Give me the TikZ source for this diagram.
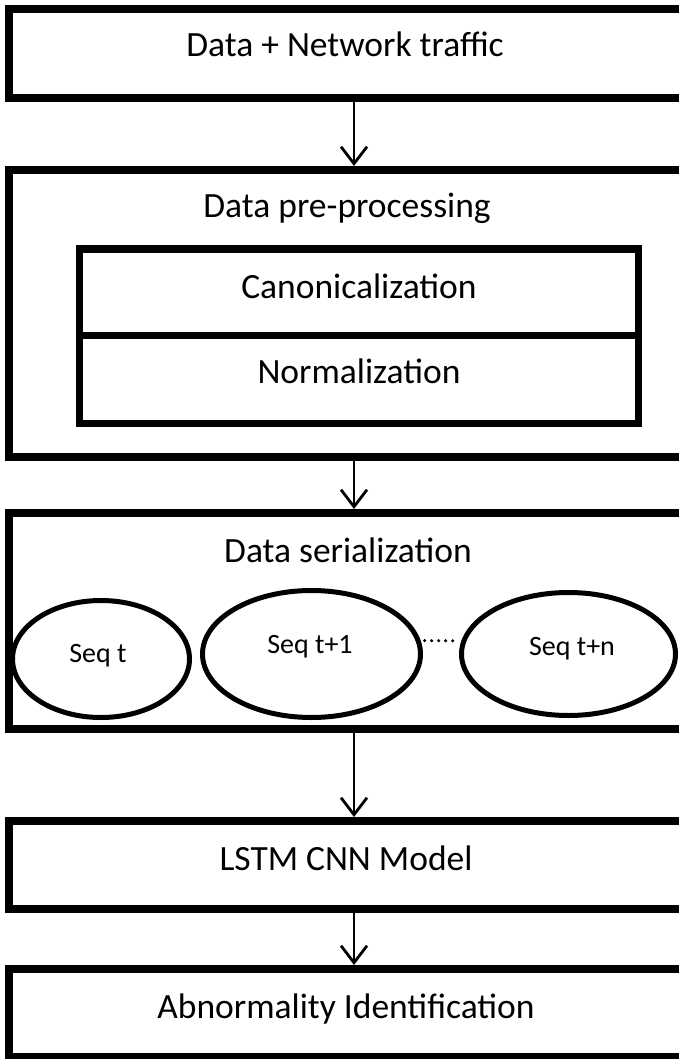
\documentclass[tikz,border=0pt]{standalone}
\usepackage{fontspec}
\setmainfont{Carlito}
\usetikzlibrary{arrows.meta,shapes.geometric,calc}
\begin{document}
\begin{tikzpicture}[x=1pt,y=-1pt,
  box/.style={draw=black,line width=8pt,fill=white,minimum width=700pt,inner sep=0pt},
  subbox/.style={draw=black,line width=7pt,fill=white,minimum width=559pt,inner sep=0pt},
  txt/.style={font=\fontsize{35.5}{41}\selectfont,anchor=base,inner sep=0pt},
  seqtxt/.style={font=\fontsize{28}{33}\selectfont,anchor=base,inner sep=0pt},
  seq/.style={draw=black,ellipse,line width=5pt,fill=white,inner sep=0pt},
  arr/.style={line width=2.6pt,-{Straight Barb[length=17pt,width=26pt,line width=2.8pt]}},
  dotline/.style={line width=3.4pt,line cap=round,dash pattern=on 0pt off 7pt}]
\useasboundingbox (0,0) rectangle (679,1059);
\clip (0,0) rectangle (679,1059);
\fill[white] (0,0) rectangle (679,1059);
\coordinate (ax) at (354,0);
% boxes
\node[box,minimum height=89pt] (b1) at (359,53.5) {};
\node[box,minimum height=287pt] (b2) at (359,313.5) {};
\node[subbox,minimum height=86pt] (canon) at (358.5,292) {};
\node[subbox,minimum height=88pt] (norm) at (358.5,379) {};
\node[box,minimum height=216pt] (b3) at (359,621) {};
\node[box,minimum height=88pt] (b4) at (359,865) {};
\node[box,minimum height=88pt] (b5) at (359,1013) {};
% ellipses
\node[seq,minimum width=177pt,minimum height=117pt] (e1) at (101,659) {};
\node[seq,minimum width=218pt,minimum height=127pt] (e2) at (311.5,654) {};
\node[seq,minimum width=214pt,minimum height=123pt] (e3) at (568.5,654) {};
\draw[dotline] ($(e2.7)+(4,0)$) -- ($(e3.173)+(-4,0)$);
% texts
\node[txt] (t1) at (345,57) {Data + Network traffic};
\node[txt] (t2) at (347,218) {Data pre-processing};
\node[txt] (tc) at (359,298) {Canonicalization};
\node[txt] (tn) at (359,383) {Normalization};
\node[txt] (t3) at (348,562) {Data serialization};
\node[seqtxt] (s1) at (98,662) {Seq t};
\node[seqtxt] (s2) at (310,653) {Seq t+1};
\node[seqtxt] (s3) at (572,655) {Seq t+n};
\node[txt] (t4) at (346,870) {LSTM CNN Model};
\node[txt] (t5) at (346,1018) {Abnormality Identification};
% arrows
\draw[arr] (b1.south -| ax) -- (b2.north -| ax);
\draw[arr] (b2.south -| ax) -- (b3.north -| ax);
\draw[arr] (b3.south -| ax) -- (b4.north -| ax);
\draw[arr] (b4.south -| ax) -- (b5.north -| ax);
\end{tikzpicture}
\end{document}
